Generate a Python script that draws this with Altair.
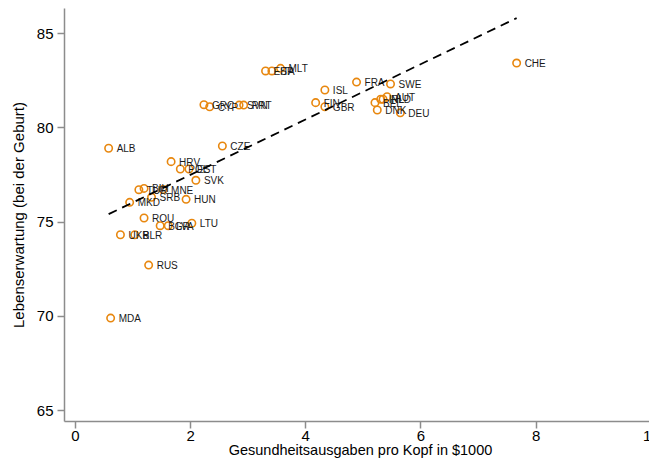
import altair as alt
import pandas as pd

countries = ["CHE", "ALB", "MDA", "RUS", "UKR", "BLR", "ROU", "BGR", "LVA", "LTU",
             "HRV", "POL", "EST", "CZE", "SVK", "HUN", "MKD", "SRB", "TUR", "BIH",
             "MNE", "ESP", "ITA", "MLT", "ISL", "FRA", "SWE", "FIN", "GBR", "DNK",
             "DEU", "BEL", "IRL", "NLD", "AUT", "GRC", "CYP", "SVN", "PRT"]
spending = [7.67, 0.585, 0.62, 1.28, 0.79, 1.04, 1.20, 1.48, 1.62, 2.03,
            1.67, 1.83, 1.98, 2.56, 2.10, 1.93, 0.95, 1.33, 1.11, 1.20,
            1.53, 3.31, 3.42, 3.57, 4.34, 4.89, 5.48, 4.18, 4.34, 5.25,
            5.65, 5.21, 5.31, 5.35, 5.42, 2.24, 2.34, 2.85, 2.93]
life_exp = [83.41, 78.89, 69.88, 72.69, 74.30, 74.30, 75.19, 74.78, 74.78, 74.91,
            78.18, 77.79, 77.79, 79.01, 77.19, 76.18, 76.02, 76.29, 76.69, 76.76,
            76.70, 82.99, 82.99, 83.13, 81.98, 82.40, 82.30, 81.31, 81.09, 80.92,
            80.77, 81.31, 81.49, 81.49, 81.62, 81.20, 81.09, 81.18, 81.18]

x_ticks = [0, 2, 4, 6, 8, 10]
y_ticks = [65, 70, 75, 80, 85]
x_title = "Gesundheitsausgaben pro Kopf in $1000"
y_title = "Lebenserwartung (bei der Geburt)"

df = pd.DataFrame({"country": countries, "x": spending, "y": life_exp})

FONT = "Liberation Sans"
ORANGE = "#E8870E"
AXIS_GRAY = "#8c8c8c"

x_scale = alt.Scale(domain=[-0.19, 10.09], nice=False, zero=False)
y_scale = alt.Scale(domain=[64.42, 86.33], nice=False, zero=False)

x_axis = alt.Axis(values=x_ticks, title=x_title, grid=False, format="d",
                  domainColor=AXIS_GRAY, domainWidth=1.5, tickColor=AXIS_GRAY,
                  tickWidth=1.5, tickSize=7, labelPadding=0, labelFontSize=15,
                  labelFont=FONT, labelColor="black", titleFont=FONT,
                  titleFontSize=14.5, titleFontWeight="normal", titleColor="black",
                  titlePadding=0)
y_axis = alt.Axis(values=y_ticks, title=y_title, grid=False, format="d",
                  domainColor=AXIS_GRAY, domainWidth=1.5, tickColor=AXIS_GRAY,
                  tickWidth=1.5, tickSize=7, labelPadding=4, labelFontSize=15,
                  labelFont=FONT, labelColor="black", titleFont=FONT,
                  titleFontSize=15, titleFontWeight="normal", titleColor="black",
                  titlePadding=10)

base = alt.Chart(df)

points = base.mark_point(shape="circle", filled=False, color=ORANGE, size=55,
                         strokeWidth=1.6, opacity=1).encode(
    x=alt.X("x:Q", scale=x_scale, axis=x_axis),
    y=alt.Y("y:Q", scale=y_scale, axis=y_axis),
)

labels = base.mark_text(align="left", baseline="middle", dx=8, dy=1,
                        fontSize=10, font=FONT, color="#1a1a1a").encode(
    x=alt.X("x:Q", scale=x_scale),
    y=alt.Y("y:Q", scale=y_scale),
    text="country:N",
)

fit = base.transform_regression("x", "y", method="linear").mark_line(
    color="black", strokeDash=[9, 6], strokeWidth=1.8).encode(
    x=alt.X("x:Q", scale=x_scale),
    y=alt.Y("y:Q", scale=y_scale),
)

chart = alt.layer(points, labels, fit).properties(
    width=592,
    height=413,
    padding={"left": 56, "top": 0, "right": -7, "bottom": 37},
    autosize=alt.AutoSizeParams(type="none"),
    background="white",
).configure_view(stroke=None)

chart.save("out.html", embed_options={"renderer": "svg", "actions": False})
